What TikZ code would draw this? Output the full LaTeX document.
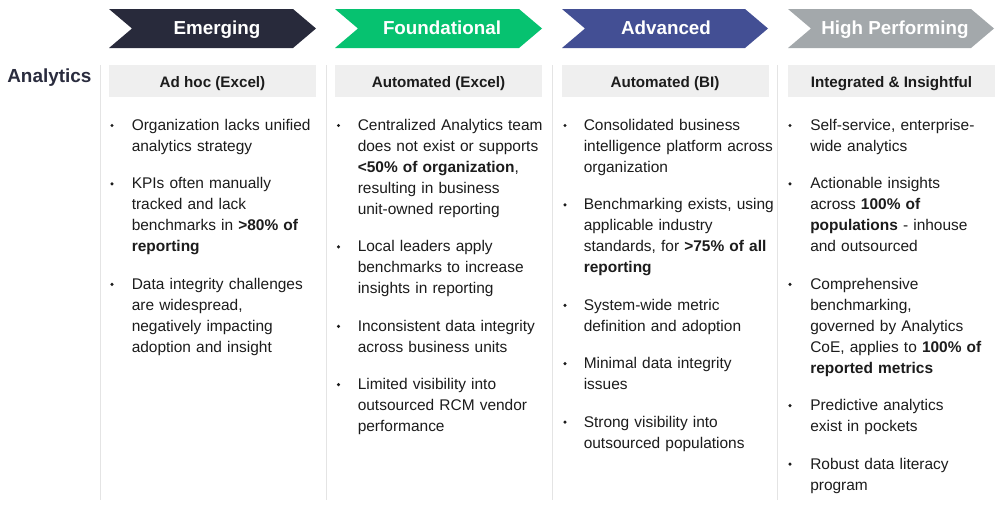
\documentclass[tikz,border=0pt]{standalone}
\usepackage{fontspec}
\setmainfont{Liberation Sans}
\definecolor{cemerg}{HTML}{282A3B}
\definecolor{cfound}{HTML}{06C270}
\definecolor{cadv}{HTML}{434F94}
\definecolor{chigh}{HTML}{A3A8AB}
\definecolor{chead}{HTML}{EFEFEF}
\definecolor{csep}{HTML}{E4E4E4}
\definecolor{ctext}{HTML}{1C1C1C}
\definecolor{clabel}{HTML}{2A2C3E}
\newcommand{\chevronshape}[3]{%
  \fill[#3] (#1,9) -- ({#2-23},9) -- (#2,28.5) -- ({#2-23},48) -- (#1,48) -- ({#1+23},28.5) -- cycle;}
\begin{document}
\begin{tikzpicture}[x=0.75pt,y=-0.75pt,
  chevtext/.style={anchor=base,text=white,inner sep=0pt,font=\bfseries\fontsize{14.1}{16}\selectfont},
  hbox/.style={fill=chead,minimum width=155.25pt,minimum height=24pt,inner sep=0pt,
    text height=11.5pt,text depth=1.75pt,text=ctext,font=\bfseries\fontsize{11.4}{13}\selectfont},
  bul/.style={anchor=base west,inner sep=0pt,text width=200pt,align=left,text=ctext,
    font=\fontsize{11.6}{15.75}\selectfont},
  dot/.style={circle,fill=ctext,inner sep=0pt,minimum size=2.6pt},
  sep/.style={draw=csep,line width=0.75pt}]
\useasboundingbox (0,0) rectangle (1000,508);
\fill[white] (0,0) rectangle (1000,508);

% separators
\foreach \x in {100,326,552,777} \draw[sep] (\x,65) -- (\x,500);

% chevrons
\chevronshape{109}{316}{cemerg}
\chevronshape{335}{542}{cfound}
\chevronshape{562}{768}{cadv}
\chevronshape{788}{994}{chigh}
\node[chevtext] (s1) at (217,34.3) {Emerging};
\node[chevtext] (s2) at (442,34.3) {Foundational};
\node[chevtext] (s3) at (666,34.3) {Advanced};
\node[chevtext] (s4) at (895,34.3) {High Performing};

% row label
\node[anchor=base west,inner sep=0pt,text=clabel,font=\bfseries\fontsize{14.2}{16}\selectfont] (lab) at (7,82) {Analytics};

% header boxes
\node[hbox] (h1) at (212.5,81) {Ad hoc (Excel)};
\node[hbox] (h2) at (438.5,81) {Automated (Excel)};
\node[hbox] (h3) at (665,81) {Automated (BI)};
\node[hbox] (h4) at (891.5,81) {Integrated \& Insightful};

% column 1
\node[bul] (c1a) at (131.5,130.5) {Organization lacks unified\\analytics strategy};
\node[bul] (c1b) at (131.5,188.9) {KPIs often manually\\tracked and lack\\benchmarks in \textbf{>80\% of}\\\textbf{reporting}};
\node[bul] (c1c) at (131.5,289.3) {Data integrity challenges\\are widespread,\\negatively impacting\\adoption and insight};
\foreach \y [count=\i] in {130.5,188.9,289.3} \node[dot] (d1\i) at (112,\y-5) {};

% column 2
\node[bul] (c2a) at (357.5,130.5) {Centralized Analytics team\\does not exist or supports\\\textbf{<50\% of organization},\\resulting in business\\unit-owned reporting};
\node[bul] (c2b) at (357.5,251.9) {Local leaders apply\\benchmarks to increase\\insights in reporting};
\node[bul] (c2c) at (357.5,331.3) {Inconsistent data integrity\\across business units};
\node[bul] (c2d) at (357.5,389.7) {Limited visibility into\\outsourced RCM vendor\\performance};
\foreach \y [count=\i] in {130.5,251.9,331.3,389.7} \node[dot] (d2\i) at (338.5,\y-5) {};

% column 3
\node[bul] (c3a) at (583.5,130.5) {Consolidated business\\intelligence platform across\\organization};
\node[bul] (c3b) at (583.5,209.9) {Benchmarking exists, using\\applicable industry\\standards, for \textbf{>75\% of all}\\\textbf{reporting}};
\node[bul] (c3c) at (583.5,310.3) {System-wide metric\\definition and adoption};
\node[bul] (c3d) at (583.5,368.7) {Minimal data integrity\\issues};
\node[bul] (c3e) at (583.5,427.1) {Strong visibility into\\outsourced populations};
\foreach \y [count=\i] in {130.5,209.9,310.3,368.7,427.1} \node[dot] (d3\i) at (565,\y-5) {};

% column 4
\node[bul] (c4a) at (810,130.5) {Self-service, enterprise-\\wide analytics};
\node[bul] (c4b) at (810,188.9) {Actionable insights\\across \textbf{100\% of}\\\textbf{populations} - inhouse\\and outsourced};
\node[bul] (c4c) at (810,289.3) {Comprehensive\\benchmarking,\\governed by Analytics\\CoE, applies to \textbf{100\% of}\\\textbf{reported metrics}};
\node[bul] (c4d) at (810,410.7) {Predictive analytics\\exist in pockets};
\node[bul] (c4e) at (810,469.1) {Robust data literacy\\program};
\foreach \y [count=\i] in {130.5,188.9,289.3,410.7,469.1} \node[dot] (d4\i) at (790,\y-5) {};
\end{tikzpicture}
\end{document}
